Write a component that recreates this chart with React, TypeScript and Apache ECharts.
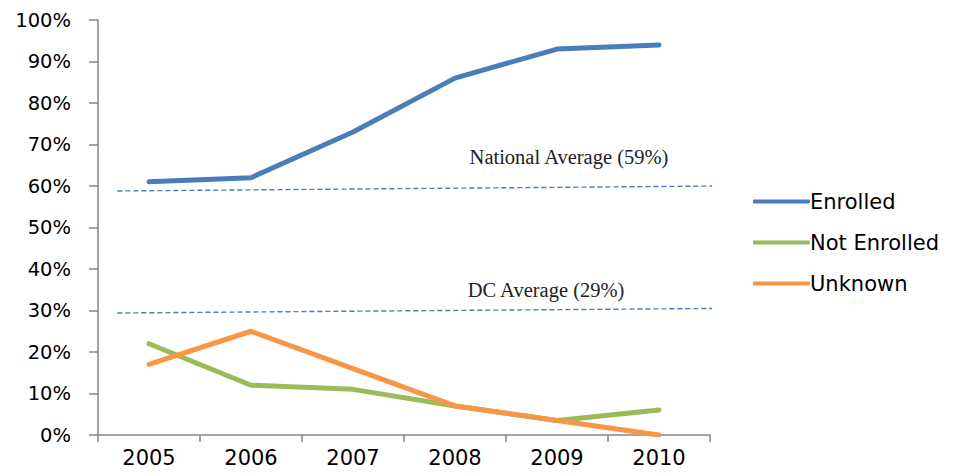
import React, { useEffect, useRef } from "react";
import * as echarts from "echarts";

const years = ["2005", "2006", "2007", "2008", "2009", "2010"];
const enrolled = [61, 62, 73, 86, 93, 94];
const notEnrolled = [22, 12, 11, 7, 3.5, 6];
const unknown = [17, 25, 16, 7, 3.5, 0];
const nationalAvgLine = [[0.19, 58.8], [6.09, 60.0]];
const dcAvgLine = [[0.19, 29.4], [6.09, 30.5]];
const nationalLabel = "National Average (59%)";
const dcLabel = "DC Average (29%)";

export default function App() {
  const ref = useRef<HTMLDivElement>(null);
  useEffect(() => {
    const chart = echarts.init(ref.current!, null, { renderer: "svg" });
    const axisColor = "#868686";
    const textStyle = { color: "#000", fontFamily: "DejaVu Sans" };
    chart.setOption({
      animation: false,
      grid: { left: 98, right: 251, top: 20, bottom: 41 },
      legend: {
        orient: "vertical",
        left: 748,
        top: 186,
        icon: "roundRect",
        itemWidth: 57,
        itemHeight: 4,
        itemGap: 20,
        textStyle: { ...textStyle, fontSize: 21, padding: [0, 0, 0, -5] },
        data: ["Enrolled", "Not Enrolled", "Unknown"],
      },
      xAxis: [
        {
          type: "category",
          data: years,
          boundaryGap: true,
          axisLine: { lineStyle: { color: axisColor, width: 1.5 } },
          axisTick: { show: true, length: 7, interval: 0, lineStyle: { color: axisColor, width: 1.5 } },
          axisLabel: { ...textStyle, fontSize: 21, margin: 12 },
        },
        { type: "value", min: 0, max: 6, show: false },
      ],
      yAxis: {
        type: "value",
        min: 0,
        max: 100,
        interval: 10,
        splitLine: { show: false },
        axisLine: { show: true, lineStyle: { color: axisColor, width: 1.5 } },
        axisTick: { show: true, length: 9, lineStyle: { color: axisColor, width: 1.5 } },
        axisLabel: { ...textStyle, fontSize: 19.5, margin: 27, formatter: "{value}%" },
      },
      graphic: [
        {
          type: "text",
          x: 569,
          y: 157,
          style: { text: nationalLabel, font: "20.5px 'Liberation Serif'", fill: "#222", align: "center", verticalAlign: "middle" },
        },
        {
          type: "text",
          x: 546,
          y: 290,
          style: { text: dcLabel, font: "20.5px 'Liberation Serif'", fill: "#222", align: "center", verticalAlign: "middle" },
        },
      ],
      series: [
        {
          name: "National Average",
          type: "line",
          xAxisIndex: 1,
          data: nationalAvgLine,
          showSymbol: false,
          clip: false,
          lineStyle: { color: "#4a7ebb", width: 1.4, type: [5, 3] },
          silent: true,
        },
        {
          name: "DC Average",
          type: "line",
          xAxisIndex: 1,
          data: dcAvgLine,
          showSymbol: false,
          clip: false,
          lineStyle: { color: "#4a7ebb", width: 1.4, type: [5, 3] },
          silent: true,
        },
        {
          name: "Enrolled",
          type: "line",
          data: enrolled,
          showSymbol: false,
          color: "#4a7ebb",
          lineStyle: { width: 5, cap: "round" },
        },
        {
          name: "Not Enrolled",
          type: "line",
          data: notEnrolled,
          showSymbol: false,
          color: "#9bbb59",
          lineStyle: { width: 5, cap: "round" },
        },
        {
          name: "Unknown",
          type: "line",
          data: unknown,
          showSymbol: false,
          color: "#f79646",
          lineStyle: { width: 5, cap: "round" },
        },
      ],
    });
    return () => chart.dispose();
  }, []);
  return (
    <div
      ref={ref}
      style={{ position: "fixed", left: 0, top: 0, width: 961, height: 476, background: "#fff" }}
    />
  );
}
